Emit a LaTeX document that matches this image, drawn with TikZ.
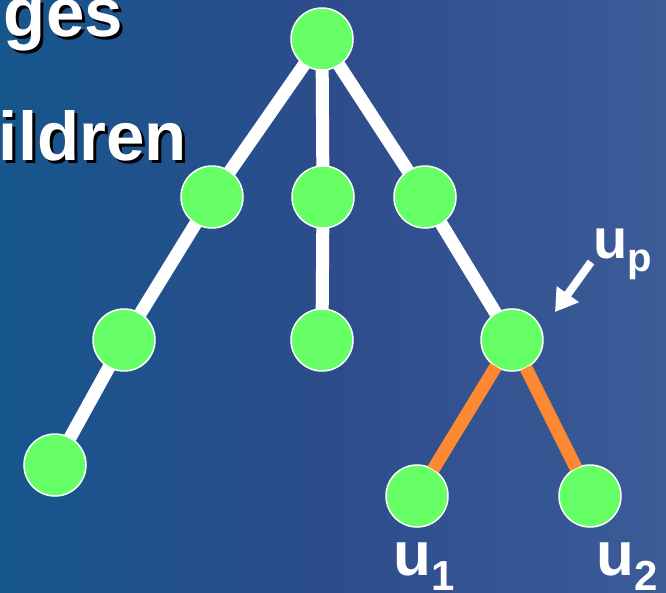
\documentclass[tikz,border=0pt]{standalone}
\usepackage{fontspec}
\setmainfont{Liberation Sans}
\usepackage{tkz-berge, tkz-graph}
\usetikzlibrary{arrows.meta, backgrounds}
\definecolor{leaf}{RGB}{102,255,102}
\definecolor{hot}{RGB}{255,136,51}
\definecolor{bgleft}{RGB}{22,86,140}
\definecolor{bgmid}{RGB}{45,76,140}
\definecolor{bgright}{RGB}{60,92,152}
\newcommand{\on}{hot}
\newcommand{\off}{white}

\begin{document}
\begin{tikzpicture}[x=1pt, y=-1pt,
        heading/.style={font=\bfseries\fontsize{69}{69}\selectfont, inner sep=0pt, anchor=base east},
        lbl/.style={font=\bfseries\fontsize{60}{60}\selectfont, text=white, inner sep=0pt, anchor=base west}]
        \useasboundingbox (0,0) rectangle (666,592);
        \begin{pgfonlayer}{background}
        \shade[left color=bgleft, right color=bgright, middle color=bgmid] (0,0) rectangle (666,592);
        \end{pgfonlayer}
        % text cut off on the left
        \node[heading, text=black] (gesshadow) at (126,39) {ges};
        \node[heading, text=white] (ges) at (123,36) {ges};
        \node[heading, text=black] (ildrenshadow) at (190,163) {ildren};
        \node[heading, text=white] (ildren) at (187,160) {ildren};
        %\SetVertexLabelOut
        \SetVertexNoLabel
        \SetVertexNormal[Shape=circle, FillColor=leaf, LineColor=white, LineWidth=1.5pt]
        \tikzset{VertexStyle/.append style={minimum size=62pt, inner sep=0pt}}
        \Vertex[x=322,y=39]{r}
        \Vertex[x=212,y=197]{a}
        \Vertex[x=323,y=197]{b}
        \Vertex[x=425,y=197]{c}
        \Vertex[x=124,y=340]{d}
        \Vertex[x=322,y=340]{e}
        \Vertex[x=512,y=340]{up}
        \Vertex[x=55,y=465]{f}
        \Vertex[x=417,y=496]{u1}
        \Vertex[x=590,y=496]{u2}
        \SetUpEdge[lw=13pt, color=\off]
        \Edges(f,d,a,r,b,e)
        \Edges(r,c,up)
        \SetUpEdge[lw=13pt, color=\on]
        \Edges(u1,up,u2)
        % labels
        \node[lbl, font=\bfseries\fontsize{56}{56}\selectfont] (uplbl) at (593,258) {u\raisebox{-13pt}{\fontsize{40}{40}\selectfont p}};
        \node[lbl, font=\bfseries\fontsize{62}{62}\selectfont] (u1lbl) at (393,575) {u\raisebox{-15pt}{\fontsize{42}{42}\selectfont 1}};
        \node[lbl, font=\bfseries\fontsize{62}{62}\selectfont] (u2lbl) at (596,575) {u\raisebox{-15pt}{\fontsize{42}{42}\selectfont 2}};
        \coordinate (tail) at (591,262);
        \coordinate (tip) at (555,312);
        \draw[white, line width=8pt, -{Triangle[length=22pt, width=26pt]}] (tail) -- (tip);
    \end{tikzpicture}
\end{document}
